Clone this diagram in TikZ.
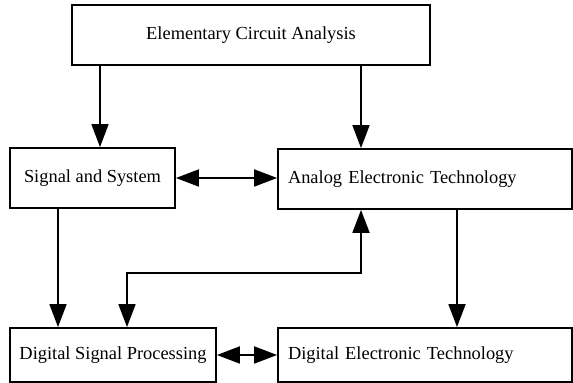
\documentclass[tikz,border=0pt]{standalone}
\usepackage{fontspec}
\setmainfont{Liberation Serif}
\usetikzlibrary{arrows.meta,positioning}

\begin{document}
\begin{tikzpicture}[x=0.5pt, y=-0.5pt, line width=0.9pt,
    every node/.style={font=\fontsize{9.2}{11}\selectfont},
    box/.style={draw, line width=0.9pt, inner sep=0pt},
    >={Triangle[length=11.5pt,width=8.5pt]}]
  \useasboundingbox (0,0) rectangle (573,383);
  \node[box, minimum width=179pt, minimum height=30pt] (eca) at (251,35) {Elementary Circuit Analysis};
  \node[box, minimum width=82.5pt, minimum height=30pt] (sig) at (92.5,178) {Signal and System};
  \node[box, minimum width=147pt, minimum height=30pt, text width=137pt, align=left] (ana) at (425,179) {Analog Electronic Technology};
  \node[box, minimum width=103pt, minimum height=27pt] (dsp) at (113,355) {Digital Signal Processing};
  \node[box, minimum width=147pt, minimum height=27pt, text width=137pt, align=left] (det) at (425,355) {Digital Electronic Technology};
  % x positions of the vertical arrows
  \coordinate (xa) at (100,0);
  \coordinate (xb) at (361,0);
  \coordinate (xc) at (58,0);
  \coordinate (xd) at (457,0);
  \coordinate (bend) at (127,273);
  \foreach \a/\b/\x in {eca/sig/xa, eca/ana/xb, sig/dsp/xc, ana/det/xd}
    \draw[->] (\a.south -| \x) -- (\b.north -| \x);
  \draw[<->] (sig) -- (ana.west |- sig);
  \draw[<->] (dsp) -- (det);
  \draw[<->] (dsp.north -| bend) -- (bend) -| (ana.south -| xb);
\end{tikzpicture}
\end{document}
